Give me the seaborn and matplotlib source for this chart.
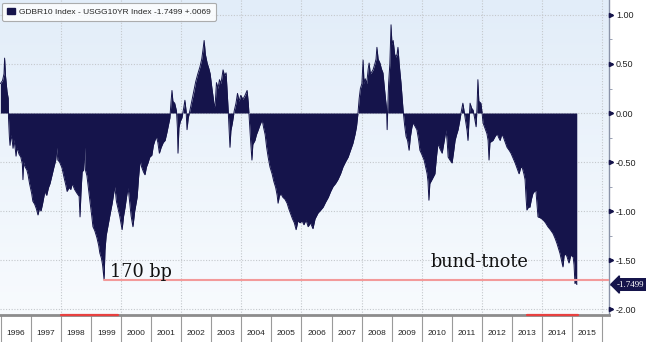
import numpy as np
import pandas as pd
import matplotlib
matplotlib.use("Agg")
import matplotlib.pyplot as plt
import matplotlib.transforms as mtransforms
from matplotlib.patches import Patch
import seaborn as sns

# ---- data (decimal years, spread in percentage points) ----
dates = [
    1995.98, 1996.05, 1996.10, 1996.12, 1996.15, 1996.20, 1996.24, 1996.25, 1996.28, 1996.30,
    1996.33, 1996.38, 1996.40, 1996.43, 1996.48, 1996.50, 1996.53, 1996.60, 1996.66, 1996.71,
    1996.73, 1996.75, 1996.80, 1996.86, 1996.90, 1996.95, 1997.02, 1997.06, 1997.12, 1997.18,
    1997.23, 1997.28, 1997.33, 1997.38, 1997.46, 1997.52, 1997.58, 1997.63, 1997.70, 1997.76,
    1997.82, 1997.86, 1997.89, 1997.95, 1998.03, 1998.10, 1998.16, 1998.20, 1998.26, 1998.32,
    1998.37, 1998.45, 1998.53, 1998.60, 1998.63, 1998.66, 1998.70, 1998.75, 1998.78, 1998.81,
    1998.86, 1998.92, 1998.96, 1999.02, 1999.06, 1999.12, 1999.19, 1999.25, 1999.29, 1999.34,
    1999.38, 1999.43, 1999.46, 1999.50, 1999.56, 1999.63, 1999.70, 1999.76, 1999.79, 1999.84,
    1999.89, 1999.95, 2000.03, 2000.08, 2000.13, 2000.18, 2000.23, 2000.28, 2000.33, 2000.39,
    2000.45, 2000.53, 2000.58, 2000.63, 2000.68, 2000.74, 2000.79, 2000.84, 2000.89, 2000.95,
    2001.02, 2001.07, 2001.12, 2001.17, 2001.22, 2001.27, 2001.33, 2001.40, 2001.46, 2001.52,
    2001.56, 2001.62, 2001.66, 2001.69, 2001.72, 2001.78, 2001.84, 2001.87, 2001.89, 2001.92,
    2001.97, 2002.02, 2002.08, 2002.12, 2002.16, 2002.19, 2002.23, 2002.29, 2002.35, 2002.42,
    2002.48, 2002.55, 2002.62, 2002.68, 2002.72, 2002.76, 2002.80, 2002.86, 2002.92, 2002.96,
    2003.02, 2003.06, 2003.10, 2003.13, 2003.17, 2003.22, 2003.27, 2003.32, 2003.39, 2003.44,
    2003.49, 2003.53, 2003.56, 2003.59, 2003.62, 2003.65, 2003.70, 2003.76, 2003.82, 2003.87,
    2003.92, 2003.98, 2004.05, 2004.12, 2004.19, 2004.23, 2004.27, 2004.31, 2004.35, 2004.38,
    2004.45, 2004.50, 2004.55, 2004.62, 2004.69, 2004.74, 2004.79, 2004.84, 2004.89, 2004.95,
    2005.02, 2005.08, 2005.14, 2005.19, 2005.22, 2005.26, 2005.31, 2005.38, 2005.45, 2005.52,
    2005.58, 2005.64, 2005.70, 2005.76, 2005.82, 2005.88, 2005.95, 2006.02, 2006.08, 2006.15,
    2006.22, 2006.30, 2006.38, 2006.45, 2006.55, 2006.64, 2006.72, 2006.80, 2006.89, 2006.97,
    2007.05, 2007.13, 2007.21, 2007.30, 2007.38, 2007.46, 2007.55, 2007.63, 2007.71, 2007.78,
    2007.83, 2007.88, 2007.92, 2007.96, 2008.01, 2008.05, 2008.08, 2008.12, 2008.17, 2008.22,
    2008.25, 2008.29, 2008.34, 2008.38, 2008.44, 2008.48, 2008.51, 2008.55, 2008.61, 2008.66,
    2008.71, 2008.76, 2008.80, 2008.83, 2008.85, 2008.87, 2008.90, 2008.94, 2008.98, 2009.01,
    2009.05, 2009.10, 2009.14, 2009.18, 2009.21, 2009.25, 2009.31, 2009.35, 2009.38, 2009.43,
    2009.48, 2009.53, 2009.58, 2009.62, 2009.67, 2009.71, 2009.77, 2009.84, 2009.90, 2009.94,
    2010.00, 2010.08, 2010.13, 2010.18, 2010.21, 2010.24, 2010.27, 2010.34, 2010.39, 2010.44,
    2010.49, 2010.54, 2010.60, 2010.68, 2010.74, 2010.81, 2010.85, 2010.88, 2010.94, 2011.01,
    2011.06, 2011.11, 2011.16, 2011.21, 2011.27, 2011.32, 2011.37, 2011.42, 2011.47, 2011.51,
    2011.54, 2011.57, 2011.61, 2011.66, 2011.71, 2011.76, 2011.81, 2011.84, 2011.87, 2011.90,
    2011.97, 2012.01, 2012.04, 2012.10, 2012.17, 2012.21, 2012.24, 2012.27, 2012.37, 2012.44,
    2012.51, 2012.56, 2012.61, 2012.66, 2012.71, 2012.78, 2012.84, 2012.91, 2012.97, 2013.04,
    2013.11, 2013.18, 2013.24, 2013.29, 2013.34, 2013.40, 2013.44, 2013.47, 2013.50, 2013.55,
    2013.60, 2013.65, 2013.70, 2013.75, 2013.80, 2013.84, 2013.87, 2013.95, 2014.04, 2014.12,
    2014.20, 2014.28, 2014.37, 2014.44, 2014.50, 2014.55, 2014.60, 2014.65, 2014.70, 2014.74,
    2014.80, 2014.84, 2014.90, 2014.96, 2015.04, 2015.07, 2015.10, 2015.13, 2015.16]
spread = [
    0.30, 0.33, 0.40, 0.56, 0.38, 0.22, 0.15, -0.05, -0.25, -0.33,
    -0.22, -0.30, -0.36, -0.27, -0.38, -0.44, -0.35, -0.42, -0.45, -0.52,
    -0.68, -0.50, -0.55, -0.58, -0.63, -0.72, -0.82, -0.90, -0.93, -0.98,
    -1.04, -0.97, -1.00, -0.93, -0.80, -0.84, -0.76, -0.72, -0.63, -0.55,
    -0.48, -0.35, -0.48, -0.50, -0.56, -0.66, -0.74, -0.80, -0.76, -0.78,
    -0.72, -0.78, -0.82, -0.85, -1.06, -0.82, -0.60, -0.58, -0.35, -0.58,
    -0.64, -0.80, -0.90, -1.05, -1.16, -1.20, -1.27, -1.35, -1.43, -1.48,
    -1.55, -1.70, -1.40, -1.25, -1.15, -1.03, -0.92, -0.80, -0.75, -0.90,
    -0.97, -1.05, -1.19, -1.05, -0.96, -0.85, -0.76, -0.90, -1.05, -1.16,
    -1.00, -0.86, -0.65, -0.48, -0.55, -0.60, -0.63, -0.55, -0.51, -0.45,
    -0.43, -0.33, -0.28, -0.24, -0.30, -0.41, -0.35, -0.30, -0.28, -0.20,
    -0.14, -0.05, 0.12, 0.23, 0.12, 0.10, 0.02, -0.15, -0.41, -0.15,
    -0.08, -0.05, 0.05, 0.13, 0.02, -0.17, -0.05, 0.03, 0.12, 0.22,
    0.32, 0.40, 0.47, 0.55, 0.64, 0.74, 0.60, 0.51, 0.45, 0.40,
    0.25, 0.16, 0.06, 0.10, 0.31, 0.25, 0.34, 0.30, 0.44, 0.38,
    0.41, 0.20, 0.03, -0.15, -0.35, -0.18, -0.10, 0.02, 0.10, 0.20,
    0.12, 0.18, 0.14, 0.18, 0.23, 0.10, -0.10, -0.30, -0.48, -0.32,
    -0.28, -0.22, -0.18, -0.12, -0.07, -0.15, -0.22, -0.35, -0.45, -0.55,
    -0.62, -0.70, -0.76, -0.84, -0.92, -0.85, -0.82, -0.86, -0.88, -0.92,
    -0.98, -1.03, -1.08, -1.12, -1.19, -1.10, -1.12, -1.10, -1.14, -1.09,
    -1.16, -1.12, -1.18, -1.08, -1.02, -0.99, -0.96, -0.91, -0.86, -0.80,
    -0.75, -0.72, -0.68, -0.62, -0.55, -0.50, -0.45, -0.38, -0.31, -0.22,
    -0.14, 0.00, 0.15, 0.25, 0.30, 0.54, 0.30, 0.35, 0.30, 0.45,
    0.51, 0.40, 0.42, 0.44, 0.50, 0.55, 0.67, 0.55, 0.51, 0.45,
    0.41, 0.25, 0.13, 0.05, -0.17, 0.05, 0.31, 0.50, 0.90, 0.70,
    0.74, 0.60, 0.57, 0.60, 0.67, 0.50, 0.31, 0.15, 0.03, -0.12,
    -0.24, -0.28, -0.38, -0.25, -0.15, -0.10, -0.13, -0.17, -0.28, -0.38,
    -0.42, -0.48, -0.55, -0.62, -0.70, -0.89, -0.72, -0.68, -0.65, -0.62,
    -0.45, -0.31, -0.36, -0.41, -0.30, -0.17, -0.30, -0.45, -0.48, -0.51,
    -0.40, -0.28, -0.22, -0.17, -0.07, 0.02, 0.10, 0.00, -0.10, -0.18,
    -0.28, -0.10, 0.10, 0.05, 0.03, -0.05, -0.14, 0.05, 0.34, 0.12,
    0.10, 0.00, -0.10, -0.15, -0.21, -0.28, -0.48, -0.30, -0.28, -0.24,
    -0.21, -0.25, -0.28, -0.22, -0.24, -0.30, -0.35, -0.38, -0.41, -0.46,
    -0.51, -0.57, -0.62, -0.56, -0.55, -0.62, -0.68, -0.85, -0.99, -0.96,
    -0.96, -0.88, -0.82, -0.80, -0.79, -0.95, -1.06, -1.07, -1.09, -1.12,
    -1.16, -1.19, -1.23, -1.28, -1.33, -1.38, -1.43, -1.50, -1.57, -1.45,
    -1.44, -1.47, -1.53, -1.45, -1.47, -1.55, -1.74, -1.72, -1.7499]
assert len(dates) == len(spread)

years = list(range(1996, 2016))
year_labels = [str(y) for y in years]
y_ticks = [1.00, 0.50, 0.00, -0.50, -1.00, -1.50, -2.00]
y_tick_labels = ["1.00", "0.50", "0.00", "-0.50", "-1.00", "-1.50", "-2.00"]
legend_text = "GDBR10 Index - USGG10YR Index -1.7499 +.0069"
last_value = -1.7499
last_label = "-1.7499"
low_level = -1.70
low_date = 1999.43
low_text = "170 bp"
name_text = "bund-tnote"
highlight_start = [1998.0, 2013.5]
highlight_end = [1999.9, 2015.2]

df = pd.DataFrame({"date": dates, "spread": spread})

# ---- styling ----
sns.set_style("white")
plt.rcParams["font.family"] = ["Liberation Sans", "DejaVu Sans"]
navy = "#15144b"

W, H = 646, 342
fig = plt.figure(figsize=(W / 100, H / 100), dpi=100)
fig.patch.set_facecolor("white")
ax = fig.add_axes([0.0, 1 - 315 / H, 609 / W, 315 / H])

ax.set_xlim(1995.967, 2016.233)
ax.set_ylim(-2.061, 1.153)

# background gradient
grad = np.linspace(0, 1, 256).reshape(-1, 1)
cmap = matplotlib.colors.LinearSegmentedColormap.from_list("bg", ["#e2edf9", "#f8fbfe"])
ax.imshow(grad, extent=[0, 1, 0, 1], transform=ax.transAxes, aspect="auto",
          cmap=cmap, zorder=0, interpolation="bicubic")

# grid
for yv in y_ticks:
    ax.axhline(yv, ls=(0, (1, 1.5)), color="#c4c8cc", lw=0.8, zorder=1)
for yr in years[2::2] + [2016]:
    ax.axvline(yr, ls=(0, (1, 1.5)), color="#c4c8cc", lw=0.8, zorder=1)

# series
ax.fill_between(df["date"], 0, df["spread"], color=navy, lw=0, zorder=3)
sns.lineplot(data=df, x="date", y="spread", color=navy, lw=0.7, ax=ax, zorder=3, sort=False)
ax.set_xlabel("")
ax.set_ylabel("")

# 170 bp line
ax.plot([low_date, 2016.233], [low_level, low_level], color="#f39a9a", lw=1.5, zorder=4)
ax.text(1999.63, -1.673, low_text, family="DejaVu Serif", fontsize=12.8, color="#111111",
        ha="left", va="baseline", zorder=5)
ax.text(2010.28, -1.57, name_text, family="DejaVu Serif", fontsize=12.8, color="#111111",
        ha="left", va="baseline", zorder=5)

# spines
for s in ["left", "top"]:
    ax.spines[s].set_visible(False)
ax.spines["right"].set_color("#8a93a8")
ax.spines["right"].set_linewidth(1.0)
ax.spines["bottom"].set_color("#8c8c8c")
ax.spines["bottom"].set_linewidth(2.0)

# highlighted strip on bottom
trans_xb = mtransforms.blended_transform_factory(ax.transData, ax.transAxes)
for s0, s1 in zip(highlight_start, highlight_end):
    ax.plot([s0, s1], [0, 0], color="#e8403f", lw=1.6, transform=trans_xb, clip_on=False, zorder=6)

# y axis on right
ax.yaxis.tick_right()
ax.set_yticks(y_ticks)
ax.set_yticklabels(y_tick_labels)
ax.set_yticks(np.arange(-2.0, 1.01, 0.25), minor=True)
ax.tick_params(axis="y", which="both", right=True, left=False)
ax.tick_params(axis="y", which="major", length=3, width=1.2, color=navy, pad=2,
               labelsize=6.5, labelcolor="#222222", direction="out")
ax.tick_params(axis="y", which="minor", length=2, width=0.6, color="#8a93a8", direction="out")
trans_ya = mtransforms.blended_transform_factory(ax.transAxes, ax.transData)
ax.plot([1.004] * len(y_ticks), y_ticks, ls="none", marker=">", ms=3, color=navy,
        transform=trans_ya, clip_on=False, zorder=6)

# x axis: year separators + labels
ax.set_xticks(years + [2016])
ax.set_xticklabels([])
ax.set_xticks([y + 0.5 for y in years], minor=True)
ax.set_xticklabels(year_labels, minor=True)
ax.tick_params(axis="x", which="both", bottom=True, top=False)
ax.tick_params(axis="x", which="major", length=20, width=0.8, color="#9a9a9a", direction="out")
ax.tick_params(axis="x", which="minor", length=0, pad=10.5, labelsize=6, labelcolor="#222222")

# last value tag
ax.text(1.0 + 8 / 609, last_value, last_label, transform=trans_ya, ha="left", va="center",
        fontsize=6.5, color="white", family="Liberation Serif",
        bbox=dict(boxstyle="larrow,pad=0.2", fc=navy, ec=navy), clip_on=False, zorder=7)

# legend
leg = ax.legend(handles=[Patch(fc=navy, ec=navy)], labels=[legend_text], loc="upper left",
                bbox_to_anchor=(0.004, 0.992), borderaxespad=0, fontsize=6.0,
                frameon=True, fancybox=True, edgecolor="#9a9a9a", facecolor="white",
                handlelength=0.9, handleheight=0.9, handletextpad=0.5, borderpad=0.6)
leg.get_frame().set_linewidth(0.8)
leg.set_zorder(8)

fig.savefig("out.png", dpi=100)
